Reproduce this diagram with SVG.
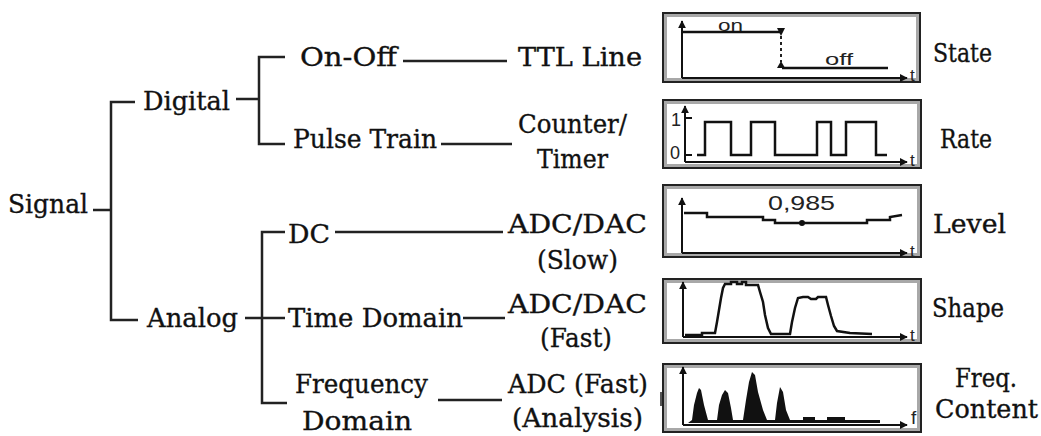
<svg xmlns="http://www.w3.org/2000/svg" width="1041" height="436" viewBox="0 0 1041 436">
<style>
 .lbl{font-family:"DejaVu Serif","Liberation Serif",serif;font-size:26px;fill:#111;stroke:#111;stroke-width:0.35}
 .ln{stroke:#222;stroke-width:2.5;fill:none}
 .ax{stroke:#111;stroke-width:2;fill:none}
 .sig{stroke:#111;stroke-width:2.5;fill:none}
 .pt{font-family:"Liberation Sans","DejaVu Sans",sans-serif;fill:#222}
 .fo{fill:#fff;stroke:#222;stroke-width:2}
 .fb{fill:none;stroke:#a8a8a8;stroke-width:3}
</style>
<defs>
 <marker id="ah" viewBox="0 0 10 10" refX="9" refY="5" markerWidth="8" markerHeight="8" markerUnits="userSpaceOnUse" orient="auto"><path d="M0,0 L10,5 L0,10 z" fill="#111"/></marker>
</defs>
<rect width="1041" height="436" fill="#fff"/>

<g id="connectors">
 <path class="ln" d="M93,210 H111 M135,102 H111 V320 H138"/>
 <path class="ln" d="M236,99 H259 M285,57 H259 V144 H285"/>
 <path class="ln" d="M245,318 H285 M285,232 H262 V403 H287"/>
 <path class="ln" d="M403,61 H507"/>
 <path class="ln" d="M441,144 H512"/>
 <path class="ln" d="M335,232 H503"/>
 <path class="ln" d="M463,318 H505"/>
 <path class="ln" d="M438,400 H502"/>
</g>

<g id="n-signal"><text class="lbl" x="8" y="213" textLength="80" lengthAdjust="spacingAndGlyphs">Signal</text></g>
<g id="n-digital"><text class="lbl" x="143" y="110" textLength="87" lengthAdjust="spacingAndGlyphs">Digital</text></g>
<g id="n-analog"><text class="lbl" x="147" y="327" textLength="91" lengthAdjust="spacingAndGlyphs">Analog</text></g>
<g id="n-onoff"><text class="lbl" x="300" y="66" textLength="97" lengthAdjust="spacingAndGlyphs">On-Off</text></g>
<g id="n-ttl"><text class="lbl" x="518" y="66" textLength="124" lengthAdjust="spacingAndGlyphs">TTL Line</text></g>
<g id="n-pulse"><text class="lbl" x="293" y="148" textLength="144" lengthAdjust="spacingAndGlyphs">Pulse Train</text></g>
<g id="n-counter">
 <text class="lbl" x="518" y="133" textLength="109" lengthAdjust="spacingAndGlyphs">Counter/</text>
 <text class="lbl" x="537" y="168" textLength="71" lengthAdjust="spacingAndGlyphs">Timer</text>
</g>
<g id="n-dc"><text class="lbl" x="288" y="243" textLength="42" lengthAdjust="spacingAndGlyphs">DC</text></g>
<g id="n-adcslow">
 <text class="lbl" x="508" y="233" textLength="139" lengthAdjust="spacingAndGlyphs">ADC/DAC</text>
 <text class="lbl" x="537" y="269" textLength="81" lengthAdjust="spacingAndGlyphs">(Slow)</text>
</g>
<g id="n-time"><text class="lbl" x="288" y="327" textLength="175" lengthAdjust="spacingAndGlyphs">Time Domain</text></g>
<g id="n-adcfast">
 <text class="lbl" x="508" y="313" textLength="139" lengthAdjust="spacingAndGlyphs">ADC/DAC</text>
 <text class="lbl" x="540" y="347" textLength="72" lengthAdjust="spacingAndGlyphs">(Fast)</text>
</g>
<g id="n-freq">
 <text class="lbl" x="295" y="393" textLength="133" lengthAdjust="spacingAndGlyphs">Frequency</text>
 <text class="lbl" x="302" y="430" textLength="110" lengthAdjust="spacingAndGlyphs">Domain</text>
</g>
<g id="n-adcanalysis">
 <text class="lbl" x="508" y="393" textLength="140" lengthAdjust="spacingAndGlyphs">ADC (Fast)</text>
 <text class="lbl" x="512" y="427" textLength="131" lengthAdjust="spacingAndGlyphs">(Analysis)</text>
</g>
<rect x="660" y="392" width="2" height="14" fill="#555"/>

<g id="plot-state">
 <rect class="fo" x="663" y="13" width="257" height="69"/>
 <rect class="fb" x="665.5" y="15.5" width="252" height="64"/>
 <path class="ax" d="M682,78 V21" marker-end="url(#ah)"/>
 <path class="ax" d="M682,78 H907" marker-end="url(#ah)"/>
 <path class="sig" d="M682,32 H782 M782,68 H888"/>
 <path d="M781,36 V62" stroke="#222" stroke-width="2" stroke-dasharray="3,3"/>
 <polygon points="777,28 785,28 781,36" fill="#111"/>
 <polygon points="777,68 785,68 781,61" fill="#111"/>
 <text class="pt" x="718" y="31" font-size="17" textLength="25" lengthAdjust="spacingAndGlyphs">on</text>
 <text class="pt" x="825" y="65" font-size="17" textLength="28" lengthAdjust="spacingAndGlyphs">off</text>
 <text class="pt" x="910" y="81" font-size="17">t</text>
</g>

<g id="plot-rate">
 <rect class="fo" x="663" y="100" width="258" height="68"/>
 <rect class="fb" x="665.5" y="102.5" width="253" height="63"/>
 <path class="ax" d="M685,162 V106" marker-end="url(#ah)"/>
 <path class="ax" d="M685,162 H907" marker-end="url(#ah)"/>
 <path class="ax" d="M685,118 H692 M685,155 H692"/>
 <text class="pt" x="671" y="126" font-size="18">1</text>
 <text class="pt" x="670" y="159" font-size="18">0</text>
 <polyline class="sig" points="697,155 705,155 705,122 731,122 731,155 751,155 751,122 775,122 775,155 817,155 817,122 831,122 831,155 846,155 846,122 876,122 876,155 887,155"/>
 <text class="pt" x="910" y="166" font-size="17">t</text>
</g>

<g id="plot-level">
 <rect class="fo" x="663" y="185" width="258" height="72"/>
 <rect class="fb" x="665.5" y="187.5" width="253" height="67"/>
 <path class="ax" d="M682,253 V198" marker-end="url(#ah)"/>
 <path class="ax" d="M682,253 H907" marker-end="url(#ah)"/>
 <polyline class="sig" stroke-width="2" points="684,213 707,213 707,217 763,217 763,220 775,220 775,223 867,223 867,220 890,220 890,217 902,215"/>
 <circle cx="802" cy="223" r="3" fill="#111"/>
 <text class="pt" x="768" y="210" font-size="21" textLength="67" lengthAdjust="spacingAndGlyphs">0,985</text>
 <text class="pt" x="910" y="257" font-size="17">t</text>
</g>

<g id="plot-shape">
 <rect class="fo" x="663" y="279" width="258" height="64"/>
 <rect class="fb" x="665.5" y="281.5" width="253" height="59"/>
 <path class="ax" d="M683,337 V282" marker-end="url(#ah)"/>
 <path class="ax" d="M683,337 H907" marker-end="url(#ah)"/>
 <polyline class="sig" points="685,335 702,335 702,333 715,333 717,322 719,310 721,298 723,288 725,284 731,284 731,282 737,282 737,284 742,284 742,282 746,282 746,285 758,285 760,292 763,302 765,315 768,328 771,334 790,334 792,322 795,308 798,298 803,297 808,297 811,299 816,299 818,297 826,297 828,305 831,316 834,326 837,331 850,333 872,334"/>
 <text class="pt" x="910" y="341" font-size="17">t</text>
</g>

<g id="plot-freq">
 <rect class="fo" x="663" y="364" width="258" height="68"/>
 <rect class="fb" x="665.5" y="366.5" width="253" height="63"/>
 <path class="ax" d="M683,425 V367" marker-end="url(#ah)"/>
 <path class="ax" d="M683,425 H907" marker-end="url(#ah)"/>
 <polygon fill="#111" points="688,423 692,420 694,405 697,393 699,388 701,390 704,405 708,420 717,420 719,405 722,395 725,390 728,393 731,408 733,420 743,420 746,400 749,382 752,372 755,375 758,392 763,410 767,420 775,420 777,403 780,387 783,392 786,410 790,420 803,420 803,417 815,417 815,420 827,420 827,417 845,417 845,420 880,420 880,423"/>
 <text class="pt" x="911" y="424" font-size="19">f</text>
</g>

<g id="n-state"><text class="lbl" x="933" y="62" textLength="59" lengthAdjust="spacingAndGlyphs">State</text></g>
<g id="n-rate"><text class="lbl" x="940" y="148" textLength="52" lengthAdjust="spacingAndGlyphs">Rate</text></g>
<g id="n-level"><text class="lbl" x="933" y="233" textLength="73" lengthAdjust="spacingAndGlyphs">Level</text></g>
<g id="n-shape"><text class="lbl" x="932" y="317" textLength="72" lengthAdjust="spacingAndGlyphs">Shape</text></g>
<g id="n-content">
 <text class="lbl" x="955" y="387" textLength="62" lengthAdjust="spacingAndGlyphs">Freq.</text>
 <text class="lbl" x="935" y="418" textLength="103" lengthAdjust="spacingAndGlyphs">Content</text>
</g>
</svg>
